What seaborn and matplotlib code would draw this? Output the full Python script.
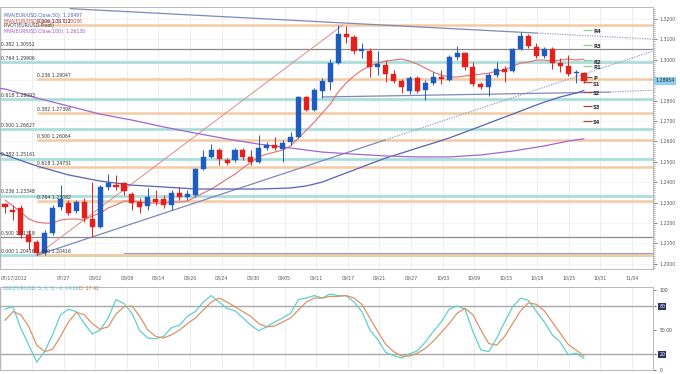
import numpy as np
import pandas as pd
import matplotlib
matplotlib.use("Agg")
import matplotlib.pyplot as plt
from matplotlib.ticker import MultipleLocator
import seaborn as sns

W, H = 680, 374

# ---- values ----
tick_labels = ["07/17/2012", "", "07/27", "08/02", "08/08", "08/14", "08/20", "08/24",
               "08/30", "09/05", "09/11", "09/17", "09/21", "09/27", "10/03", "10/09",
               "10/15", "10/19", "10/25", "10/31", "11/04"]

opens = [1.2293, 1.2264, 1.2274, 1.2142, 1.2107, 1.2053, 1.2152, 1.2279, 1.2298, 1.2259,
         1.2303, 1.2220, 1.2181, 1.2377, 1.2386, 1.2396, 1.2342, 1.2303, 1.2284, 1.2318,
         1.2318, 1.2289, 1.2347, 1.2328, 1.2338, 1.2465, 1.2524, 1.2558, 1.2509, 1.2509,
         1.2558, 1.2524, 1.2499, 1.2568, 1.2583, 1.2563, 1.2597, 1.2622, 1.2818, 1.2754,
         1.2847, 1.2891, 1.2984, 1.3126, 1.3112, 1.3043, 1.3043, 1.2964, 1.2974, 1.2930,
         1.2896, 1.2847, 1.2911, 1.2852, 1.2886, 1.2916, 1.2901, 1.3014, 1.3033, 1.2964,
         1.2881, 1.2867, 1.2925, 1.2955, 1.2945, 1.3053, 1.3117, 1.3063, 1.3019, 1.3053,
         1.2984, 1.2969, 1.2935, 1.2935]
highs = [1.2298, 1.2289, 1.2289, 1.2166, 1.2117, 1.2166, 1.2289, 1.2386, 1.2313, 1.2313,
         1.2323, 1.2401, 1.2386, 1.2440, 1.2436, 1.2401, 1.2352, 1.2323, 1.2372, 1.2362,
         1.2338, 1.2362, 1.2377, 1.2362, 1.2470, 1.2558, 1.2587, 1.2568, 1.2519, 1.2568,
         1.2568, 1.2558, 1.2632, 1.2597, 1.2622, 1.2607, 1.2646, 1.2823, 1.2823, 1.2862,
         1.2911, 1.3004, 1.3171, 1.3166, 1.3122, 1.3082, 1.3058, 1.3043, 1.2999, 1.2950,
         1.2906, 1.2921, 1.2921, 1.2901, 1.2940, 1.2950, 1.3023, 1.3068, 1.3038, 1.2989,
         1.2891, 1.2935, 1.2989, 1.2969, 1.3058, 1.3136, 1.3126, 1.3082, 1.3063, 1.3063,
         1.3009, 1.3023, 1.2950, 1.2940]
lows = [1.2249, 1.2215, 1.2127, 1.2068, 1.2042, 1.2045, 1.2142, 1.2264, 1.2240, 1.2249,
        1.2205, 1.2132, 1.2176, 1.2362, 1.2362, 1.2338, 1.2264, 1.2249, 1.2264, 1.2289,
        1.2274, 1.2264, 1.2313, 1.2313, 1.2328, 1.2460, 1.2519, 1.2485, 1.2485, 1.2499,
        1.2509, 1.2485, 1.2494, 1.2558, 1.2558, 1.2499, 1.2583, 1.2617, 1.2749, 1.2749,
        1.2813, 1.2852, 1.2979, 1.3082, 1.3028, 1.3009, 1.2916, 1.2925, 1.2891, 1.2886,
        1.2837, 1.2832, 1.2837, 1.2803, 1.2876, 1.2881, 1.2896, 1.2999, 1.2950, 1.2872,
        1.2857, 1.2823, 1.2916, 1.2891, 1.2940, 1.3048, 1.3058, 1.3009, 1.3009, 1.2955,
        1.2940, 1.2921, 1.2886, 1.2886]
closes = [1.2279, 1.2254, 1.2142, 1.2107, 1.2053, 1.2152, 1.2274, 1.2318, 1.2249, 1.2303,
          1.2225, 1.2181, 1.2377, 1.2396, 1.2377, 1.2357, 1.2298, 1.2279, 1.2328, 1.2303,
          1.2289, 1.2347, 1.2328, 1.2342, 1.2465, 1.2524, 1.2558, 1.2514, 1.2494, 1.2558,
          1.2524, 1.2499, 1.2568, 1.2583, 1.2568, 1.2592, 1.2622, 1.2818, 1.2754, 1.2852,
          1.2896, 1.2984, 1.3126, 1.3112, 1.3043, 1.3053, 1.2964, 1.2979, 1.2930, 1.2896,
          1.2867, 1.2911, 1.2847, 1.2886, 1.2916, 1.2906, 1.3014, 1.3033, 1.2964, 1.2881,
          1.2867, 1.2925, 1.2955, 1.2940, 1.3053, 1.3117, 1.3068, 1.3019, 1.3053, 1.2984,
          1.2969, 1.2930, 1.2940, 1.2895]

ma10 = [1.2313, 1.2284, 1.2254, 1.2220, 1.2205, 1.2200, 1.2200, 1.2215, 1.2220, 1.2220,
        1.2215, 1.2235, 1.2249, 1.2274, 1.2289, 1.2308, 1.2308, 1.2303, 1.2298, 1.2298,
        1.2298, 1.2303, 1.2303, 1.2308, 1.2328, 1.2347, 1.2367, 1.2391, 1.2416, 1.2440,
        1.2470, 1.2499, 1.2524, 1.2538, 1.2548, 1.2558, 1.2578, 1.2617, 1.2656, 1.2695,
        1.2739, 1.2783, 1.2842, 1.2886, 1.2921, 1.2950, 1.2969, 1.2984, 1.2994, 1.2999,
        1.3004, 1.2994, 1.2979, 1.2960, 1.2940, 1.2925, 1.2916, 1.2916, 1.2921, 1.2925,
        1.2930, 1.2935, 1.2945, 1.2950, 1.2969, 1.2984, 1.2989, 1.2999, 1.2999, 1.2994,
        1.2999, 1.3004, 1.2999, 1.3004]

ma50_day = [-1, 0, 4, 8, 12, 16, 20, 24, 28, 32, 36, 38, 40, 42, 44, 46, 48, 50, 52, 54,
            56, 58, 60, 62, 64, 66, 68, 70, 72, 73]
ma50 = [1.2548, 1.2534, 1.2480, 1.2436, 1.2406, 1.2386, 1.2377, 1.2367, 1.2367, 1.2367,
        1.2372, 1.2382, 1.2401, 1.2431, 1.2460, 1.2490, 1.2519, 1.2543, 1.2568, 1.2592,
        1.2617, 1.2646, 1.2675, 1.2705, 1.2734, 1.2764, 1.2793, 1.2818, 1.2837, 1.2850]

ma100_day = [-1, 0, 4, 8, 12, 16, 20, 24, 28, 32, 36, 40, 44, 48, 52, 56, 60, 64, 68, 71, 73]
ma100 = [1.2862, 1.2857, 1.2813, 1.2774, 1.2734, 1.2705, 1.2671, 1.2641, 1.2612, 1.2587,
         1.2568, 1.2548, 1.2538, 1.2529, 1.2524, 1.2524, 1.2534, 1.2553, 1.2578, 1.2602,
         1.2613]

stoch_k = [76, 79, 52, 31, 10, 23, 44, 69, 76, 73, 58, 45, 50, 65, 88, 83, 71, 49, 40, 39,
           42, 53, 56, 67, 73, 85, 93, 85, 77, 74, 65, 56, 49, 54, 60, 65, 71, 88, 90, 93,
           90, 95, 93, 93, 85, 73, 50, 38, 22, 18, 15, 20, 24, 35, 48, 60, 76, 80, 76, 48,
           25, 23, 40, 60, 79, 90, 87, 73, 60, 44, 35, 19, 21, 14.6]
stoch_d = [62, 73, 69, 54, 31, 23, 26, 42, 60, 72, 69, 58, 51, 54, 70, 79, 80, 67, 50, 42,
           40, 44, 50, 58, 65, 75, 85, 90, 85, 79, 73, 67, 58, 54, 55, 60, 65, 75, 85, 90,
           90, 92, 92, 93, 90, 82, 65, 48, 32, 23, 17.5, 17.5, 21, 27, 36, 47, 58, 71, 77, 69,
           50, 33, 31, 42, 58, 74, 84, 82, 74, 60, 46, 32, 25, 17.4]

# fibonacci retracements
fib_a_ratio = ["0.000", "0.236", "0.382", "0.500", "0.618", "0.764"]
fib_a_level = [1.20416, 1.23348, 1.25161, 1.26627, 1.28093, 1.29906]
fib_b_ratio = ["0.000", "0.236", "0.382", "0.500", "0.618", "0.764", "1.000"]
fib_b_level = [1.31712, 1.29047, 1.27398, 1.26064, 1.24731, 1.23082, 1.20416]
fib_c_ratio = ["0.382", "0.500"]
fib_c_level = [1.30552, 1.21318]

pivot_names = ["R4", "R3", "R2", "R1", "P", "S1", "S2", "S3", "S4"]
pivot_level = [1.3146, 1.3073, 1.2997, 1.2970, 1.2916, 1.2889, 1.2842, 1.2774, 1.2700]

# hand drawn trendlines (day index, price)
down_day = [8.2, 67.1, 81.7]
down_px = [1.3251, 1.3131, 1.3102]
red_day = [4.0, 42.6]
red_px = [1.2042, 1.3171]
up_day = [4.0, 47.9, 81.7]
up_px = [1.2042, 1.2607, 1.3043]
flat_day = [40.0, 76.3, 81.7]
flat_px = [1.2818, 1.2842, 1.2852]
low_line_day = [15.0, 81.7]
low_line_px = [1.2052, 1.2052]

last_price = 1.28954

# ---- figure ----
sns.set_style("white")
plt.rcParams["font.family"] = ["DejaVu Sans"]

fig = plt.figure(figsize=(W / 100, H / 100), dpi=100)


def rect(left, top, right, bottom):
    return [left / W, 1 - bottom / H, (right - left) / W, (bottom - top) / H]


def ftext(x, y, s, **kw):
    fig.text(x / W, 1 - y / H, s, **kw)


ax = fig.add_axes(rect(0, 7, 653, 269))
ax2 = fig.add_axes(rect(0, 287, 653, 370))

xmax = 81.7
tick_pos = np.arange(len(tick_labels)) * 3.98 - 0.55
small = 3.3

df = pd.DataFrame({"open": opens, "high": highs, "low": lows, "close": closes})
df["day"] = np.arange(len(df))

for a in (ax, ax2):
    a.set_xlim(-0.63, xmax)
    a.set_xticks(tick_pos)
    a.xaxis.set_minor_locator(MultipleLocator(0.995))
    a.grid(axis="x", color="#ebebeb", lw=0.6)
    a.set_axisbelow(True)
    for s in a.spines.values():
        s.set_color("#b8b8b8")
        s.set_linewidth(0.7)
    a.yaxis.tick_right()

ax.set_ylim(1.1975, 1.3259)
yt = np.arange(1.20, 1.3201, 0.01)
ax.set_yticks(yt)
# 1.2900 sits under the last-price tag
ax.set_yticklabels(["" if abs(v - 1.29) < 1e-6 else f"{v:.4f}" for v in yt])
ax.yaxis.set_minor_locator(MultipleLocator(0.001))
ax.tick_params(axis="y", which="major", length=3, width=0.5, labelsize=small,
               colors="#555555", pad=1.5)
ax.tick_params(axis="y", which="minor", length=1.5, width=0.4, colors="#777777")
ax.tick_params(axis="x", which="major", length=4, width=0.5, direction="inout",
               labelsize=small, colors="#555555", pad=3)
ax.tick_params(axis="x", which="minor", length=1.6, width=0.4, direction="in",
               colors="#777777")
ax.set_xticklabels(tick_labels)
ax.get_xticklabels()[0].set_ha("left")
for v in yt:
    ax.axhline(v, color="#f2f2f2", lw=0.5, zorder=0)

# fibonacci lines
for lvl in fib_a_level:
    ax.axhline(lvl, color="#a9dedb", lw=2.0, zorder=1)
ax.hlines(fib_b_level, 4.0, xmax, color="#f4caa4", lw=1.8, zorder=1.5)
for lvl in fib_c_level:
    ax.axhline(lvl, color="#8a8a8a", lw=0.9, zorder=1.6)

for r, lvl in zip(fib_a_ratio + fib_c_ratio, fib_a_level + fib_c_level):
    ax.annotate(f"{r} {lvl:.5f}", (-0.5, lvl), xytext=(0, 0.8), textcoords="offset points",
                fontsize=small, color="#333333", va="bottom", ha="left", zorder=8)
for r, lvl in zip(fib_b_ratio, fib_b_level):
    ax.annotate(f"{r} {lvl:.5f}", (4.0, lvl), xytext=(0, 0.8), textcoords="offset points",
                fontsize=small, color="#333333", va="bottom", ha="left", zorder=8)

# trendlines
ax.plot(down_day[:2], down_px[:2], color="#7f88b8", lw=0.9, zorder=3)
ax.plot(down_day[1:], down_px[1:], color="#9aa0c0", lw=0.9, ls=(0, (1, 1)), zorder=3)
ax.plot(red_day, red_px, color="#e08a8a", lw=0.7, zorder=3)
ax.plot(up_day[:2], up_px[:2], color="#7f88b8", lw=0.9, zorder=3)
ax.plot(up_day[1:], up_px[1:], color="#9aa0c0", lw=0.9, ls=(0, (1, 1)), zorder=3)
ax.plot(flat_day[:2], flat_px[:2], color="#7f88b8", lw=0.9, zorder=3)
ax.plot(flat_day[1:], flat_px[1:], color="#9aa0c0", lw=0.9, ls=(0, (1, 1)), zorder=3)
ax.plot(low_line_day, low_line_px, color="#9a9ac8", lw=0.8, zorder=1.7)

# moving averages
sns.lineplot(x=df["day"], y=ma10, ax=ax, color="#e07070", lw=0.8, zorder=4)
sns.lineplot(x=ma50_day, y=ma50, ax=ax, color="#5563b0", lw=0.9, zorder=4)
sns.lineplot(x=ma100_day, y=ma100, ax=ax, color="#a066d0", lw=0.9, zorder=4)

# candles
up = df["close"] >= df["open"]
colors = np.where(up, "#1f5cbf", "#e3201b")
ax.vlines(df["day"], df["low"], df["high"], colors=colors, lw=0.7, zorder=5)
body_lo = np.minimum(df["open"], df["close"])
body_h = np.maximum((df["close"] - df["open"]).abs(), 0.0004)
ax.bar(df["day"], body_h, bottom=body_lo, width=0.64, color=colors, edgecolor=colors,
       lw=0.3, zorder=6)

# pivots
piv_colors = ["#8dcf8d"] * 4 + ["#a04848"] * 5
ax.hlines(pivot_level, 72.9, 74.0, colors=piv_colors, lw=0.9, zorder=7)
for name, lvl in zip(pivot_names, pivot_level):
    ax.annotate(name, (74.15, lvl), xytext=(0, -1.3), textcoords="offset points",
                fontsize=3.8, fontweight="bold", color="#333333", va="center", ha="left",
                zorder=8)
ax.set_xlabel("")
ax.set_ylabel("")

# legend texts
ftext(4, 15.7, "MVA(EUR/USD.Close,50): 1.28497", fontsize=small, color="#4f5fb5", va="center")
ftext(4, 21, "MVA(EUR/USD.Close,10): 1.30036", fontsize=small, color="#d04040", va="center")
ftext(4, 26, "PIVOT(EUR/USD,Pivot)", fontsize=small, color="#333333", va="center")
ftext(4, 31.3, "MVA(EUR/USD.Close,100): 1.26130", fontsize=small, color="#9b4fd0", va="center")
ftext(655.5, 80.8, f"{last_price:.5f}", fontsize=small, color="#222222", va="center",
      bbox=dict(boxstyle="square,pad=0.35", fc="#8ccff0", ec="none"))

# stochastic panel
ax2.set_ylim(0, 103.75)
sns.lineplot(x=df["day"], y=stoch_k, ax=ax2, color="#5fd0cc", lw=0.9, zorder=4)
sns.lineplot(x=df["day"], y=stoch_d, ax=ax2, color="#d8946a", lw=0.9, zorder=4)
ax2.axhline(80, color="#a8a8a8", lw=1.0, zorder=2)
ax2.axhline(20, color="#a8a8a8", lw=1.0, zorder=2)
ax2.set_yticks([0, 20, 50, 80, 100])
ax2.set_yticklabels(["0", "20", "50.00", "80", "100"])
ax2.tick_params(axis="y", length=2.5, width=0.5, labelsize=small, colors="#444444", pad=2)
ax2.tick_params(axis="x", which="both", length=0, labelbottom=False)
for lab in ax2.get_yticklabels():
    if lab.get_text() in ("20", "80"):
        lab.set_color("white")
        lab.set_bbox(dict(boxstyle="square,pad=0.2", fc="#2d3560", ec="none"))
ax2.set_xlabel("")
ax2.set_ylabel("")
ftext(3, 288.5, "SSD(EUR/USD, 5, 3, 3) - K: 14.60", fontsize=small, color="#4cc0c0",
      va="center")
ftext(79, 288.5, "D: 17.42", fontsize=small, color="#c8703a", va="center")

fig.savefig("out.png", dpi=100)
